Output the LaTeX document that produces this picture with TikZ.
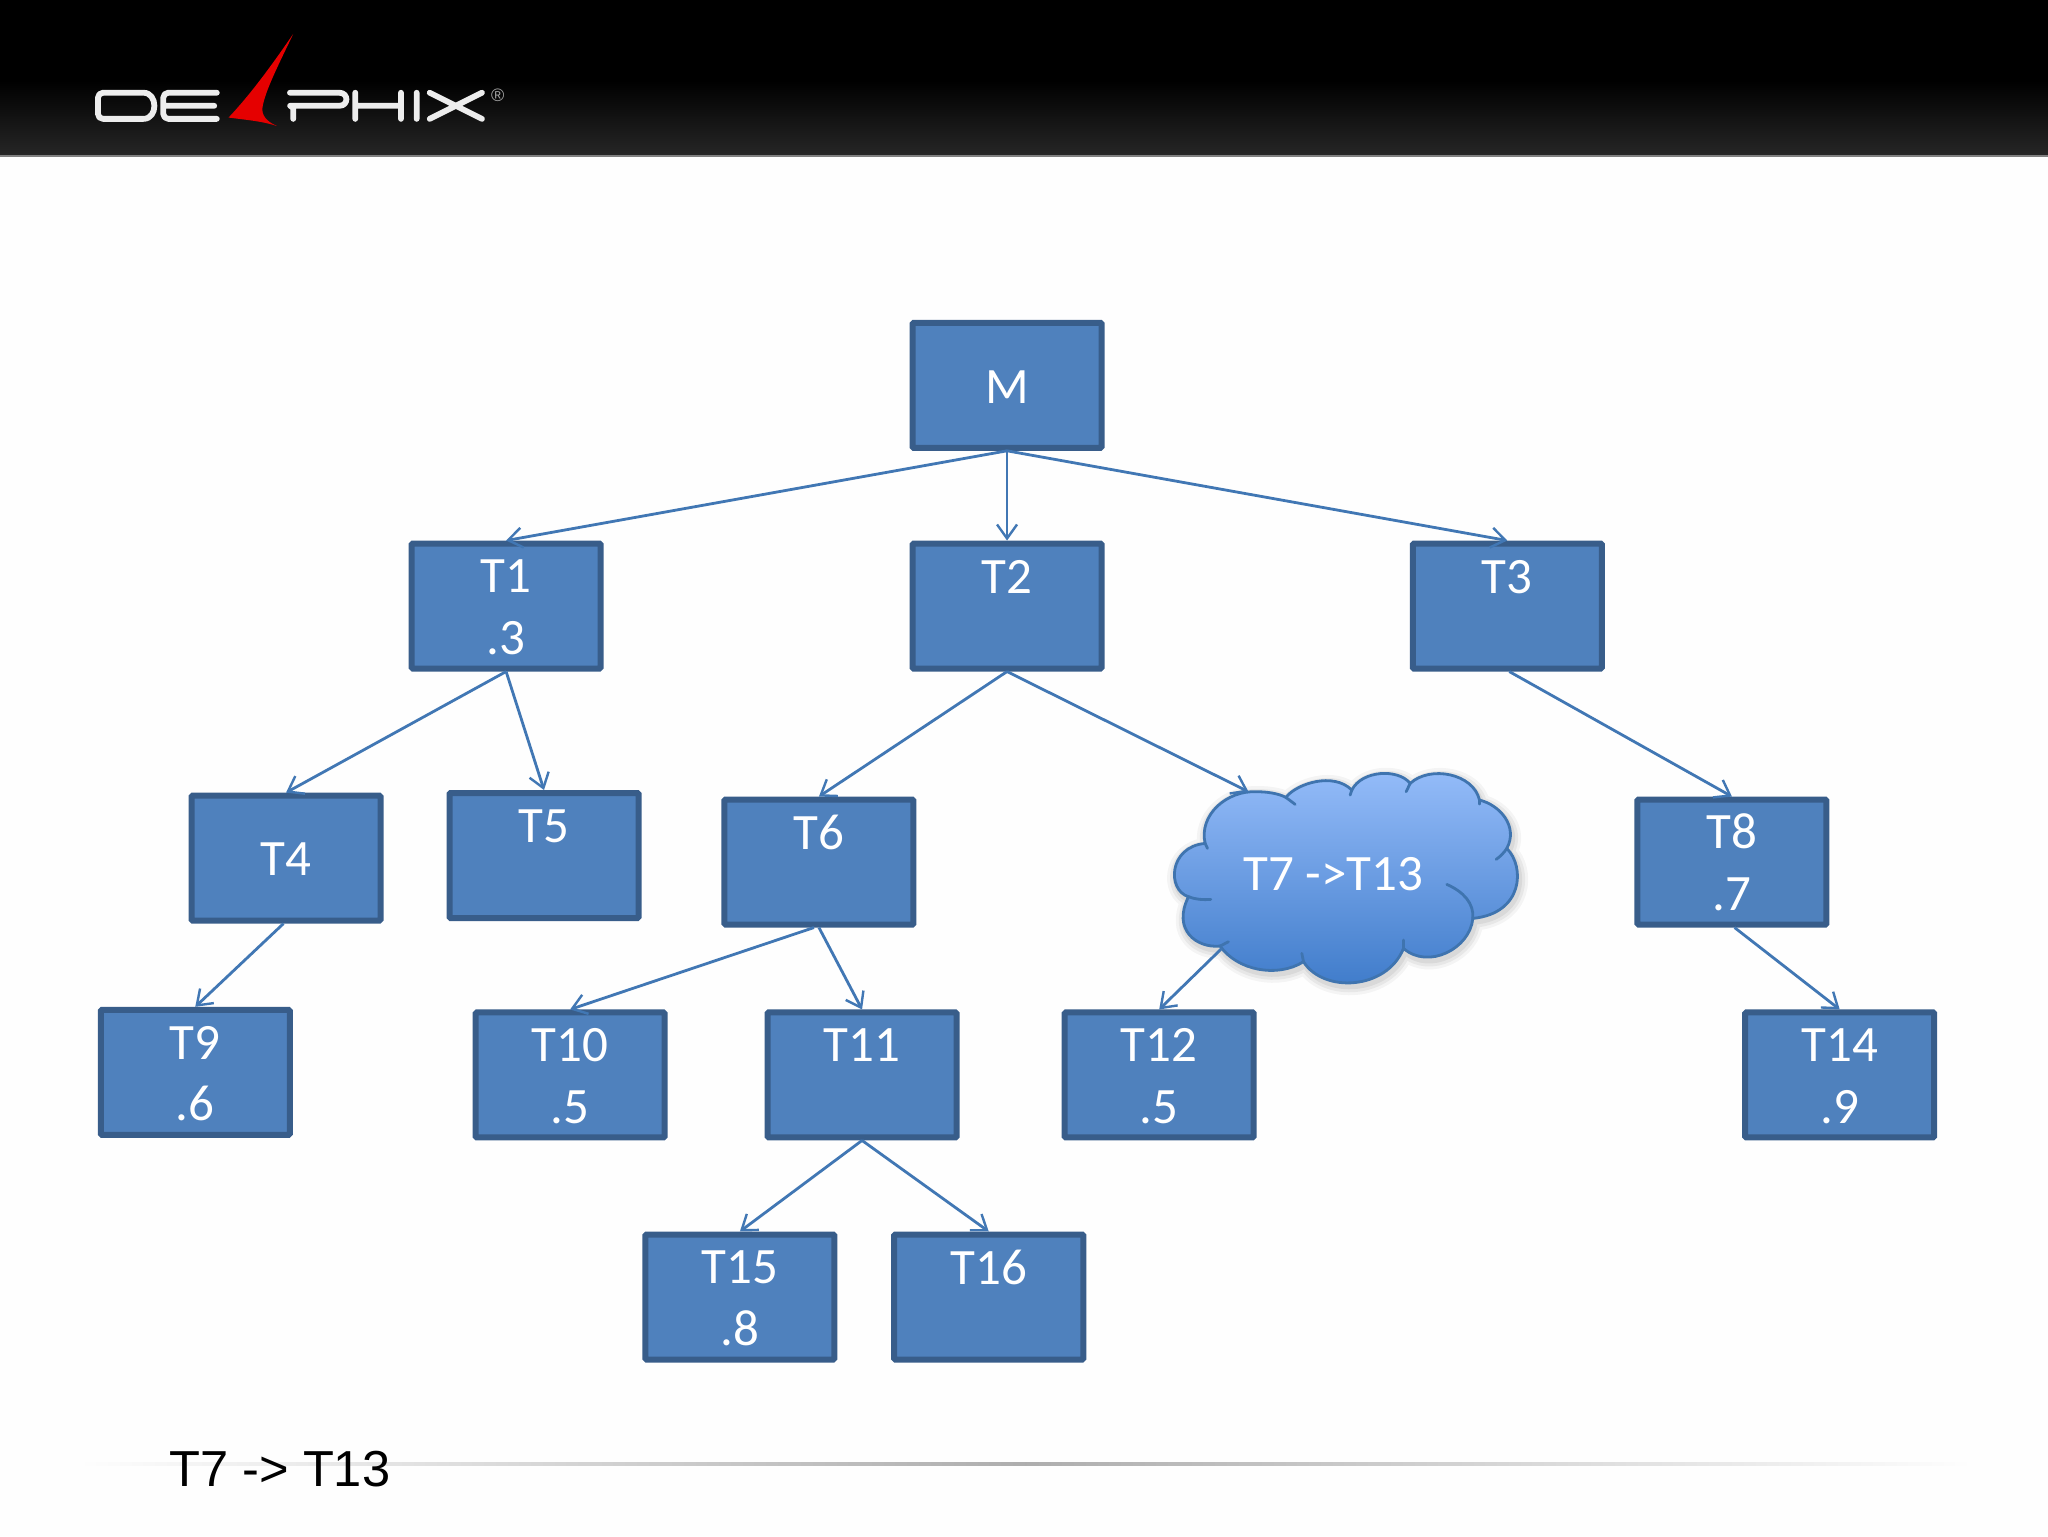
\documentclass[tikz,border=0pt]{standalone}
\usepackage{fontspec}
\setmainfont{Carlito}
\newfontfamily\arialfont{Liberation Sans}
\usetikzlibrary{arrows.meta,calc}
\definecolor{boxfill}{HTML}{4F81BD}
\definecolor{boxedge}{HTML}{385D8A}
\definecolor{linkblue}{HTML}{4177B4}
\definecolor{cloudtop}{HTML}{96BDFA}
\definecolor{cloudbot}{HTML}{3D7AC9}
\definecolor{cloudedge}{HTML}{3F74AF}
\definecolor{pagebg}{HTML}{FEFEFE}
\newcommand{\toprl}{\rule{0pt}{17.7pt}}
\tikzset{
  x=0.65306pt,y=-0.65306pt,
  tbox/.style={draw=boxedge,fill=boxfill,line width=3pt,rounded corners=0.6pt,
    minimum width=94.5pt,minimum height=62.5pt,inner sep=0pt,text=white,align=center,
    font=\fontsize{25.5}{30.7}\selectfont},
  link/.style={draw=linkblue,line width=1.4pt,-{Straight Barb[length=7pt,width=10pt,line width=1.2pt]}},
  logow/.style={draw=white!93!black,line width=2.9pt,line cap=round,line join=round,rounded corners=2.5pt},
}
\newcommand{\cloudshape}{
  (255,310) .. controls (235,225) and (320,150) .. (410,155)
  .. controls (440,155) and (475,160) .. (497,172)
  .. controls (530,130) and (640,95) .. (695,150)
  .. controls (725,90) and (835,85) .. (870,130)
  .. controls (930,75) and (1060,100) .. (1078,180)
  .. controls (1140,195) and (1195,260) .. (1160,325)
  .. controls (1215,380) and (1210,520) .. (1058,535)
  .. controls (1050,625) and (925,690) .. (850,625)
  .. controls (800,750) and (610,760) .. (550,665)
  .. controls (470,715) and (350,690) .. (300,618)
  .. controls (230,625) and (155,570) .. (205,470)
  .. controls (140,450) and (145,320) .. (255,310) -- cycle
}
\begin{document}
\begin{tikzpicture}
\useasboundingbox (0,0) rectangle (1568,1176);
\fill[pagebg] (0,0) rectangle (1568,1176);
% header
\fill[black] (0,0) rectangle (1568,62);
\shade[top color=black,bottom color=black!85] (0,62) rectangle (1568,119);
\fill[black!50] (0,119) rectangle (1568,120.5);
% logo
\draw[logow] (75,71) -- (106,71) .. controls (121,71) and (121,91) .. (106,91) -- (75,91) -- cycle;
\draw[logow] (166,71) -- (125,71) -- (125,91) -- (166,91) (125,81) -- (164,81);
\fill[red!90!black] (224.5,26) .. controls (208,50) and (192,72) .. (175,90)
  .. controls (190,92) and (202,93) .. (212,96.5) .. controls (204,93) and (200,88) .. (201,82)
  .. controls (203,70) and (212,52) .. (224.5,26) -- cycle;
\draw[logow] (222,71) -- (256,71) .. controls (267,71) and (267,81) .. (256,81) -- (226,81)
  .. controls (224,81) and (224.5,84) .. (224.5,86) -- (224.5,91);
\draw[logow,rounded corners=0pt] (272,71) -- (272,91) (272,81) -- (307,81) (307,71) -- (307,91) (319,71) -- (319,91)
  (329,71) -- (369,91) (329,91) -- (369,71);
\node[inner sep=0pt,text=white!65!black,font=\arialfont\fontsize{9}{10}\selectfont] (regmark) at (381,73) {®};
% boxes
\node[tbox] (M)   at (771,295)  {\toprl M};
\node[tbox] (T1)  at (387.5,464){\toprl T1\\.3};
\node[tbox] (T2)  at (771,464)  {\toprl T2\\~};
\node[tbox] (T3)  at (1154,464) {\toprl T3\\~};
\node[tbox] (T4)  at (219,657)  {\toprl T4};
\node[tbox] (T5)  at (416.5,655){\toprl T5\\~};
\node[tbox] (T6)  at (627,660)  {\toprl T6\\~};
\node[tbox] (T8)  at (1326,660) {\toprl T8\\.7};
\node[tbox] (T9)  at (149.5,821){\toprl T9\\.6};
\node[tbox] (T10) at (436.5,823){\toprl T10\\.5};
\node[tbox] (T11) at (660,823)  {\toprl T11\\~};
\node[tbox] (T12) at (887.5,823){\toprl T12\\.5};
\node[tbox] (T14) at (1408.5,823){\toprl T14\\.9};
\node[tbox] (T15) at (566.5,993){\toprl T15\\.8};
\node[tbox] (T16) at (757,993)  {\toprl T16\\~};
% cloud
\begin{scope}[shift={(857.6,566.6)},x=0.16667pt,y=-0.16667pt]
  \foreach \w/\o in {9/.04,6/.05,3/.06}{
    \draw[black,line width=\w pt,opacity=\o,line join=round,shift={(5,10)}] \cloudshape;
  }
  \path[top color=cloudtop,bottom color=cloudbot,draw=cloudedge,line width=1.4pt] \cloudshape;
  \begin{scope}[draw=cloudedge,line width=1.4pt,line cap=round]
    \draw (255,310) -- (262,325);
    \draw (497,172) .. controls (505,178) and (515,185) .. (525,193);
    \draw (695,150) -- (690,165);
    \draw (870,130) -- (858,155);
    \draw (1078,180) -- (1078,192);
    \draw (1160,325) .. controls (1152,337) and (1142,348) .. (1128,358);
    \draw (980,433) .. controls (1030,455) and (1062,490) .. (1058,535);
    \draw (850,625) -- (850,600);
    \draw (550,665) -- (545,640);
    \draw (300,618) -- (325,605);
    \draw (205,470) .. controls (225,478) and (250,480) .. (272,478);
  \end{scope}
  \node[text=white,font=\fontsize{25.5}{30}\selectfont] (cloudtext) at (640,402) {T7 ->T13};
  \coordinate (cloudin) at (385,155);
  \coordinate (cloudout) at (305,625);
\end{scope}
% connectors
\draw[link] (M.south) -- (T1.north);
\draw[link] (M.south) -- (T2.north);
\draw[link] (M.south) -- (T3.north);
\draw[link] (T1.south) -- (T4.north);
\draw[link] (T1.south) -- (T5.north);
\draw[link] (T2.south) -- (T6.north);
\draw[link] (T2.south) -- (cloudin);
\draw[link] ([xshift=1pt]T3.south) -- (T8.north);
\draw[link] ([xshift=-1.3pt]T4.south) -- (T9.north);
\draw[link] ([xshift=-2.5pt]T6.south) -- (T10.north);
\draw[link] (T6.south) -- (T11.north);
\draw[link] (cloudout) -- (T12.north);
\draw[link] ([xshift=1.3pt]T8.south) -- (T14.north);
\draw[link] (T11.south) -- (T15.north);
\draw[link] (T11.south) -- (T16.north);
% footer
\shade[left color=pagebg,right color=pagebg,middle color=black!32] (60,1119.5) rectangle (1510,1122);
\node[anchor=base west,inner sep=0pt,font=\arialfont\fontsize{25.3}{30}\selectfont,text=black] (caption) at (129.5,1138) {T7 -> T13};
\end{tikzpicture}
\end{document}
